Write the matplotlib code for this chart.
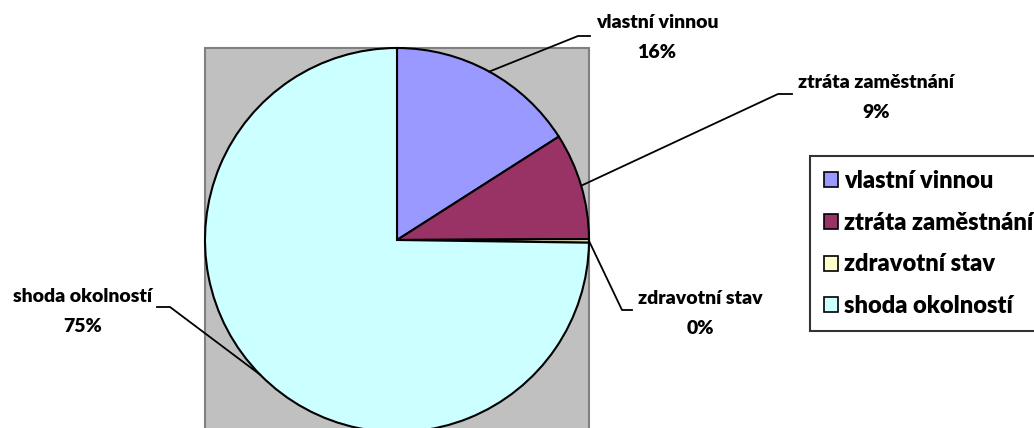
import numpy as np
import matplotlib
matplotlib.use("Agg")
from matplotlib import pyplot as plt
from matplotlib.patches import Rectangle

# data
categories = ["vlastní vinnou", "ztráta zaměstnání", "zdravotní stav", "shoda okolností"]
shares = [16, 9, 0.3, 75]
colors = ["#9999FF", "#993366", "#FFFFCC", "#CCFFFF"]

# label layout in image pixels (y from top): elbow, end of leader, text centre
elbows = [(578, 36), (778, 94), (622, 310), (170, 307)]
ends = [(590, 36), (792, 94), (632, 310), (157, 307)]
text_xy = [(657, 22), (876, 82), (700, 298), (83, 296)]

W, H = 1034, 428
plt.rcParams['font.family'] = ['Lato', 'DejaVu Sans']

fig = plt.figure(figsize=(W / 100, H / 100), dpi=100)
ax = fig.add_axes([0, 0, 1, 1])

cx, cy, R = 397, H - 240, 192

# grey plot area behind the pie
ax.add_patch(Rectangle((cx - R, cy - R), 2 * R, 2 * R, facecolor="#C0C0C0",
                       edgecolor="#808080", linewidth=1.5, zorder=0))

wedges, _ = ax.pie(shares, colors=colors, startangle=90, counterclock=False,
                   center=(cx, cy), radius=R,
                   wedgeprops=dict(edgecolor="black", linewidth=1.5))

total = sum(shares)
for w, name, val, el, en, txy in zip(wedges, categories, shares, elbows, ends, text_xy):
    mid = np.deg2rad((w.theta1 + w.theta2) / 2)
    sx, sy = cx + R * np.cos(mid), cy + R * np.sin(mid)
    ax.plot([sx, el[0], en[0]], [sy, H - el[1], H - en[1]], color="black", lw=1.3, zorder=5)
    ax.text(txy[0], H - txy[1], name, ha="center", va="center",
            fontsize=14, fontweight="heavy", color="black")
    ax.text(txy[0], H - txy[1] - 30, "{:.0f}%".format(100 * val / total), ha="center",
            va="center", fontsize=14, fontweight="heavy", color="black")

leg = ax.legend(wedges, categories, loc="upper left",
                bbox_to_anchor=(810 / W, 1 - 156 / H), bbox_transform=fig.transFigure,
                prop=dict(size=17, weight="heavy"), frameon=True, fancybox=False,
                borderaxespad=0, borderpad=0.6, handlelength=0.6, handleheight=0.6,
                handletextpad=0.25, labelspacing=0.83)
leg.get_frame().set_edgecolor("black")
leg.get_frame().set_linewidth(1.5)
for h in leg.legend_handles:
    h.set_linewidth(1.2)

ax.set_xlim(0, W)
ax.set_ylim(0, H)
ax.set_aspect("equal")
ax.axis("off")

fig.savefig("out.png", dpi=100)
